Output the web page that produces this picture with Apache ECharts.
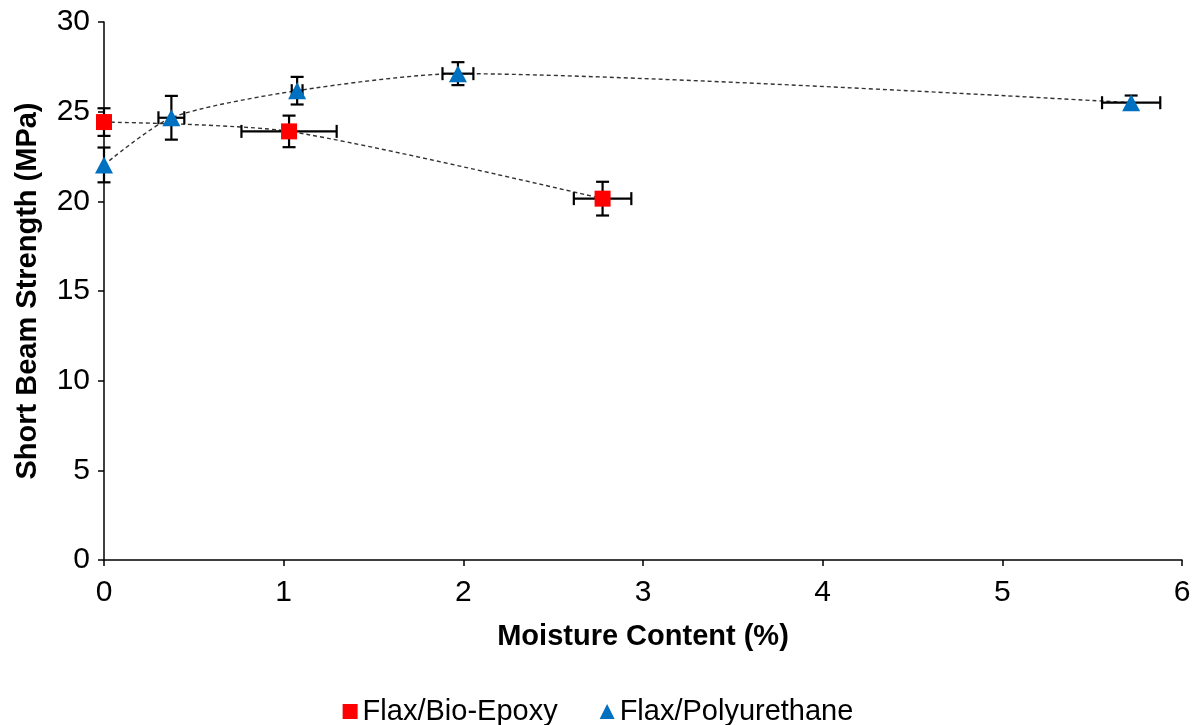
<!DOCTYPE html>
<html>
<head>
<meta charset="utf-8">
<script src="https://cdn.jsdelivr.net/npm/echarts@6/dist/echarts.min.js"></script>
<style>
  html, body { margin: 0; padding: 0; background: #fff; }
  #chart { width: 1196px; height: 725px; }
</style>
</head>
<body>
<div id="chart"></div>
<script>
// Flax/Bio-Epoxy: moisture content (%), short beam strength (MPa), error bars
const epoxyX    = [0, 1.03, 2.775];
const epoxyY    = [24.42, 23.9, 20.15];
const epoxyXErr = [0, 0.265, 0.16];
const epoxyYErr = [0.77, 0.88, 0.94];

// Flax/Polyurethane
const puX    = [0, 0.375, 1.075, 1.97, 5.717];
const puY    = [22.03, 24.66, 26.17, 27.12, 25.5];
const puXErr = [0, 0.072, 0.03, 0.086, 0.162];
const puYErr = [0.97, 1.22, 0.77, 0.64, 0.4];

const xTicks = [0, 1, 2, 3, 4, 5, 6];
const yTicks = [0, 5, 10, 15, 20, 25, 30];

const FONT = '"Liberation Sans", Arial, sans-serif';

function pairs(xs, ys) { return xs.map((x, i) => [x, ys[i]]); }
function errRows(xs, ys, ex, ey) { return xs.map((x, i) => [x, ys[i], ex[i], ey[i]]); }

// Draws horizontal and vertical error bars with end caps
function renderErr(params, api) {
  const x = api.value(0), y = api.value(1), ex = api.value(2), ey = api.value(3);
  const cap = 6.5;
  const style = { stroke: '#000', lineWidth: 2.2 };
  const children = [];
  if (ey > 0) {
    const top = api.coord([x, y + ey]);
    const bot = api.coord([x, y - ey]);
    children.push({ type: 'line', shape: { x1: top[0], y1: top[1], x2: bot[0], y2: bot[1] }, style });
    children.push({ type: 'line', shape: { x1: top[0] - cap, y1: top[1], x2: top[0] + cap, y2: top[1] }, style });
    children.push({ type: 'line', shape: { x1: bot[0] - cap, y1: bot[1], x2: bot[0] + cap, y2: bot[1] }, style });
  }
  if (ex > 0) {
    const l = api.coord([x - ex, y]);
    const r = api.coord([x + ex, y]);
    children.push({ type: 'line', shape: { x1: l[0], y1: l[1], x2: r[0], y2: r[1] }, style });
    children.push({ type: 'line', shape: { x1: l[0], y1: l[1] - cap, x2: l[0], y2: l[1] + cap }, style });
    children.push({ type: 'line', shape: { x1: r[0], y1: r[1] - cap, x2: r[0], y2: r[1] + cap }, style });
  }
  return { type: 'group', children };
}

const chart = echarts.init(document.getElementById('chart'));

const dashed = { color: '#333', width: 1.4, type: [4, 3] };

chart.setOption({
  animation: false,
  backgroundColor: '#fff',
  grid: { left: 104, right: 14, top: 22, bottom: 165, containLabel: false },
  xAxis: {
    type: 'value',
    min: xTicks[0], max: xTicks[xTicks.length - 1], interval: 1,
    name: 'Moisture Content (%)',
    nameLocation: 'middle', nameGap: 62,
    nameTextStyle: { fontFamily: FONT, fontSize: 29, fontWeight: 'bold', color: '#000' },
    axisLine: { lineStyle: { color: '#000', width: 1.5 } },
    axisTick: { show: true, length: 6, lineStyle: { color: '#000', width: 1.5 } },
    axisLabel: { fontFamily: FONT, fontSize: 30, color: '#000', margin: 18 },
    splitLine: { show: false }
  },
  yAxis: {
    type: 'value',
    min: yTicks[0], max: yTicks[yTicks.length - 1], interval: 5,
    name: 'Short Beam Strength (MPa)',
    nameLocation: 'middle', nameGap: 62, nameRotate: 90,
    nameTextStyle: { fontFamily: FONT, fontSize: 29, fontWeight: 'bold', color: '#000' },
    axisLine: { show: true, lineStyle: { color: '#000', width: 1.5 } },
    axisTick: { show: true, length: 6, lineStyle: { color: '#000', width: 1.5 } },
    axisLabel: { fontFamily: FONT, fontSize: 30, color: '#000', margin: 14 },
    splitLine: { show: false }
  },
  legend: {
    top: 692, left: 'center',
    itemGap: 42, itemWidth: 15, itemHeight: 15,
    textStyle: { fontFamily: FONT, fontSize: 29, color: '#000' },
    data: [
      { name: 'Flax/Bio-Epoxy', icon: 'rect' },
      { name: 'Flax/Polyurethane', icon: 'triangle' }
    ]
  },
  series: [
    { type: 'line', data: pairs(epoxyX, epoxyY), smooth: 0.25, showSymbol: false,
      lineStyle: dashed, silent: true, z: 1 },
    { type: 'line', data: pairs(puX, puY), smooth: 0.25, showSymbol: false,
      lineStyle: dashed, silent: true, z: 1 },
    { type: 'custom', renderItem: renderErr, data: errRows(epoxyX, epoxyY, epoxyXErr, epoxyYErr),
      encode: { x: 0, y: 1 }, silent: true, z: 2 },
    { type: 'custom', renderItem: renderErr, data: errRows(puX, puY, puXErr, puYErr),
      encode: { x: 0, y: 1 }, silent: true, z: 2 },
    { name: 'Flax/Bio-Epoxy', type: 'scatter', data: pairs(epoxyX, epoxyY),
      symbol: 'rect', symbolSize: 16, itemStyle: { color: '#FF0000', opacity: 1 }, z: 3 },
    { name: 'Flax/Polyurethane', type: 'scatter', data: pairs(puX, puY),
      symbol: 'triangle', symbolSize: [18, 17], itemStyle: { color: '#0070C0', opacity: 1 }, z: 3 }
  ]
});
</script>
</body>
</html>
